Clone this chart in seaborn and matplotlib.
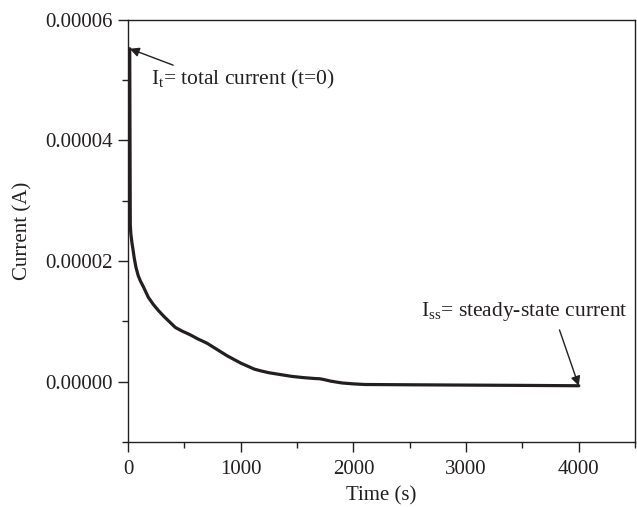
import numpy as np
import pandas as pd
import matplotlib
matplotlib.use("Agg")
import matplotlib.pyplot as plt
from matplotlib.ticker import MultipleLocator, FuncFormatter
import seaborn as sns

# Chronoamperometry record: time (s) and current (A)
time_s = [15, 20, 25, 35, 45, 55, 70, 90, 110, 140, 180, 225, 270, 320, 370,
          420, 480, 550, 620, 700, 760, 820, 880, 940, 1000, 1060, 1120,
          1180, 1250, 1350, 1450, 1550, 1650, 1700, 1730, 1800, 1900, 2000,
          2100, 2500, 3000, 3500, 4000]
current_a = [5.52e-5, 2.60e-5, 2.45e-5, 2.30e-5, 2.18e-5, 2.05e-5, 1.90e-5,
             1.76e-5, 1.67e-5, 1.56e-5, 1.40e-5, 1.28e-5, 1.18e-5, 1.08e-5,
             0.99e-5, 0.90e-5, 0.84e-5, 0.78e-5, 0.71e-5, 0.64e-5, 0.57e-5,
             0.50e-5, 0.43e-5, 0.37e-5, 0.31e-5, 0.26e-5, 0.21e-5, 0.18e-5,
             0.15e-5, 0.12e-5, 0.09e-5, 0.07e-5, 0.055e-5, 0.05e-5, 0.04e-5,
             0.01e-5, -0.02e-5, -0.035e-5, -0.045e-5, -0.05e-5, -0.055e-5,
             -0.06e-5, -0.066e-5]

x_label = "Time (s)"
y_label = "Current (A)"
label_total = r"I$_\mathrm{t}$= total current (t=0)"
label_steady = r"I$_\mathrm{ss}$= steady-state current"

sns.set_theme(style="ticks")
plt.rcParams["font.family"] = ["Liberation Serif", "DejaVu Serif"]
plt.rcParams["mathtext.fontset"] = "custom"
plt.rcParams["mathtext.rm"] = "Liberation Serif"
plt.rcParams["mathtext.it"] = "Liberation Serif:italic"
plt.rcParams["mathtext.bf"] = "Liberation Serif:bold"

ink = "#231f20"
fs = 15
df = pd.DataFrame({"t": time_s, "i": current_a})

fig = plt.figure(figsize=(6.37, 5.07), dpi=100)
ax = fig.add_axes([0.201, 0.128, 0.796, 0.833])

sns.lineplot(data=df, x="t", y="i", ax=ax, color=ink, linewidth=2.3,
             sort=False, estimator=None)

ax.set_xlim(0, 4500)
ax.set_ylim(-1e-5, 6e-5)
ax.xaxis.set_major_locator(MultipleLocator(1000))
ax.xaxis.set_minor_locator(MultipleLocator(500))
ax.yaxis.set_major_locator(MultipleLocator(2e-5))
ax.yaxis.set_minor_locator(MultipleLocator(1e-5))
ax.yaxis.set_major_formatter(FuncFormatter(lambda v, p: f"{v:.5f}" if abs(v) > 1e-12 else "0.00000"))

ax.tick_params(axis="both", which="major", direction="out", length=7,
               width=1.0, color=ink, labelsize=fs, labelcolor=ink, pad=4)
ax.tick_params(axis="x", which="major", pad=6)
ax.tick_params(axis="both", which="minor", direction="out", length=4,
               width=1.0, color=ink)
for s in ax.spines.values():
    s.set_color(ink)
    s.set_linewidth(1.0)

ax.set_xlabel(x_label, fontsize=fs, color=ink, labelpad=5)
ax.set_ylabel(y_label, fontsize=fs, color=ink, labelpad=9)

ax.annotate(label_total, xy=(time_s[0], current_a[0]),
            xytext=(200, 4.92e-5), fontsize=15.5, color=ink,
            ha="left", va="baseline",
            arrowprops=dict(arrowstyle="-|>", color=ink, lw=1.0,
                            mutation_scale=14, shrinkA=0, shrinkB=0,
                            relpos=(0.17, 1.0)))
ax.annotate(label_steady, xy=(time_s[-1], current_a[-1]),
            xytext=(2600, 1.09e-5), fontsize=15.5, color=ink,
            ha="left", va="baseline",
            arrowprops=dict(arrowstyle="-|>", color=ink, lw=1.0,
                            mutation_scale=14, shrinkA=0, shrinkB=0,
                            relpos=(0.67, -0.3)))

fig.savefig("out.png", dpi=100)
